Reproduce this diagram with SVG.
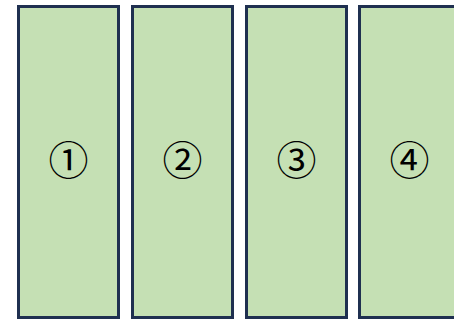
<svg xmlns="http://www.w3.org/2000/svg" width="454" height="320" viewBox="0 0 454 320">
<style>
.box{fill:#c5e0b4;stroke:#1f3050;stroke-width:3}
.lbl{font-family:"Noto Sans CJK JP","DejaVu Sans",sans-serif;font-size:40px;fill:#000;text-anchor:middle;dominant-baseline:central}
</style>
<rect width="454" height="320" fill="#fff"/>
<g id="n1"><rect class="box" x="18.5" y="6.5" width="100" height="311"/><text class="lbl" x="68.5" y="158">①</text></g>
<g id="n2"><rect class="box" x="132.5" y="6.5" width="100" height="311"/><text class="lbl" x="182.5" y="158">②</text></g>
<g id="n3"><rect class="box" x="246.5" y="6.5" width="100" height="311"/><text class="lbl" x="296.5" y="158">③</text></g>
<g id="n4"><rect class="box" x="359.5" y="6.5" width="100" height="311"/><text class="lbl" x="409.5" y="158">④</text></g>
<g id="connectors"/>
</svg>
